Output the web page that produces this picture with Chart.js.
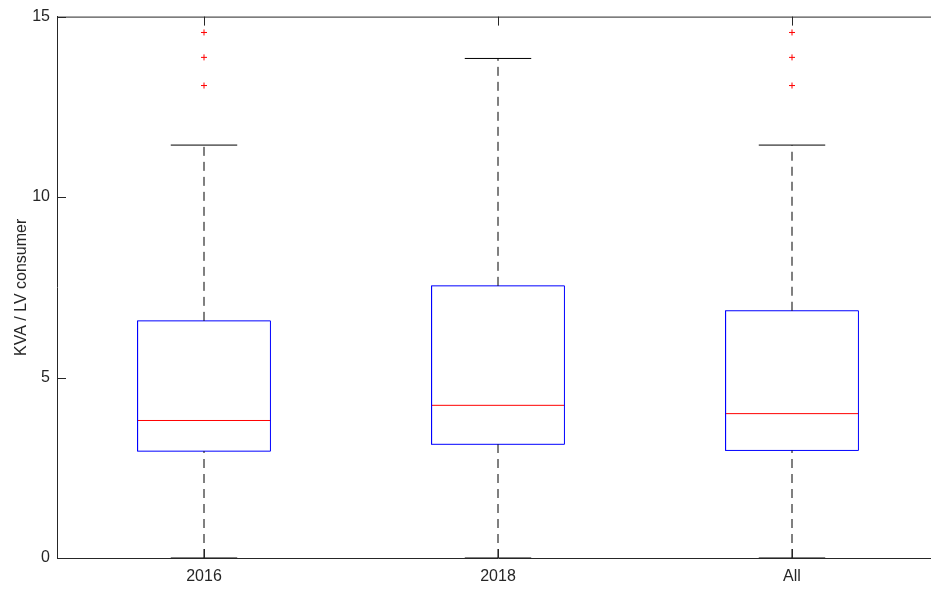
<!DOCTYPE html>
<html>
<head>
<meta charset="utf-8">
<script src="https://cdn.jsdelivr.net/npm/chart.js@4.4.1/dist/chart.umd.min.js"></script>
<style>
  html, body { margin: 0; padding: 0; background: #fff; overflow: hidden; }
  #wrap { width: 931px; height: 590px; overflow: hidden; }
</style>
</head>
<body>
<div id="wrap"><canvas id="boxChart" width="944" height="590"></canvas></div>
<script>
// box plot stats
const categories = ['2016', '2018', 'All'];
const lowerWhisker = [0, 0, 0];
const q1 = [2.96, 3.15, 2.98];
const median = [3.81, 4.23, 4.0];
const q3 = [6.57, 7.54, 6.85];
const upperWhisker = [11.44, 13.84, 11.44];
const outliers = [
  [13.09, 13.87, 14.56],
  [],
  [13.09, 13.87, 14.56]
];
const yTicks = [0, 5, 10, 15];

const AXIS = '#262626';
const BOX_HALF = 0.226;
const CAP_HALF = 0.113;
const FONT = '"Liberation Sans", Arial, Helvetica, sans-serif';

function seg(points, color, dash) {
  return {
    type: 'line',
    data: points,
    borderColor: color,
    borderWidth: 1,
    borderDash: dash || [],
    pointRadius: 0,
    fill: false,
    tension: 0
  };
}

const datasets = [];
categories.forEach((c, i) => {
  const x = i + 1;
  // whiskers (dashed)
  datasets.push(seg([{ x, y: q3[i] }, { x, y: upperWhisker[i] }], '#000', [9, 6]));
  datasets.push(seg([{ x, y: lowerWhisker[i] }, { x, y: q1[i] }], '#000', [9, 6]));
  // caps
  datasets.push(seg([{ x: x - CAP_HALF, y: upperWhisker[i] }, { x: x + CAP_HALF, y: upperWhisker[i] }], '#000'));
  datasets.push(seg([{ x: x - CAP_HALF, y: lowerWhisker[i] }, { x: x + CAP_HALF, y: lowerWhisker[i] }], '#000'));
  // box
  datasets.push(seg([
    { x: x - BOX_HALF, y: q1[i] }, { x: x + BOX_HALF, y: q1[i] },
    { x: x + BOX_HALF, y: q3[i] }, { x: x - BOX_HALF, y: q3[i] },
    { x: x - BOX_HALF, y: q1[i] }
  ], '#0000ff'));
  // median
  datasets.push(seg([{ x: x - BOX_HALF, y: median[i] }, { x: x + BOX_HALF, y: median[i] }], '#ff0000'));
  // outliers
  if (outliers[i].length) {
    datasets.push({
      type: 'scatter',
      data: outliers[i].map((v) => ({ x, y: v })),
      pointStyle: 'cross',
      pointRadius: 3,
      borderColor: '#ff0000',
      borderWidth: 1,
      showLine: false
    });
  }
});

// matlab style inward ticks + top border
const frame = {
  id: 'frame',
  afterDatasetsDraw(chart) {
    const { ctx, chartArea: a, scales } = chart;
    ctx.save();
    ctx.strokeStyle = AXIS;
    ctx.lineWidth = 1;
    ctx.beginPath();
    ctx.moveTo(a.left, a.top + 0.5);
    ctx.lineTo(a.right + 20, a.top + 0.5);
    yTicks.forEach((v) => {
      const y = Math.round(scales.y.getPixelForValue(v)) + 0.5;
      ctx.moveTo(a.left, y);
      ctx.lineTo(a.left + 9, y);
    });
    categories.forEach((c, i) => {
      const x = Math.round(scales.x.getPixelForValue(i + 1)) + 0.5;
      ctx.moveTo(x, a.bottom);
      ctx.lineTo(x, a.bottom - 9);
      ctx.moveTo(x, a.top);
      ctx.lineTo(x, a.top + 9);
    });
    ctx.stroke();
    ctx.restore();
  }
};

new Chart(document.getElementById('boxChart'), {
  type: 'line',
  data: { datasets },
  plugins: [frame],
  options: {
    responsive: false,
    devicePixelRatio: 1,
    animation: false,
    layout: { padding: { top: 15, left: 0, right: 0, bottom: 0 } },
    plugins: { legend: { display: false }, tooltip: { enabled: false } },
    scales: {
      x: {
        type: 'linear',
        min: 0.5,
        max: 3.5,
        afterBuildTicks: (s) => { s.ticks = categories.map((c, i) => ({ value: i + 1 })); },
        afterFit: (s) => { s.height = 32; },
        grid: { display: false, drawTicks: false },
        border: { display: true, color: AXIS, width: 1 },
        ticks: {
          padding: 9,
          color: '#262626',
          font: { family: FONT, size: 16 },
          maxRotation: 0,
          callback: (v) => categories[v - 1]
        }
      },
      y: {
        min: 0,
        max: 15,
        afterBuildTicks: (s) => { s.ticks = yTicks.map((v) => ({ value: v })); },
        afterFit: (s) => { s.width = 57; },
        grid: { display: false, drawTicks: false },
        border: { display: true, color: AXIS, width: 1 },
        ticks: {
          padding: 7,
          color: '#262626',
          font: { family: FONT, size: 16 }
        },
        title: {
          display: true,
          text: 'KVA / LV consumer',
          color: '#262626',
          font: { family: FONT, size: 16 },
          padding: { top: 12, bottom: 0 }
        }
      }
    }
  }
});
</script>
</body>
</html>
